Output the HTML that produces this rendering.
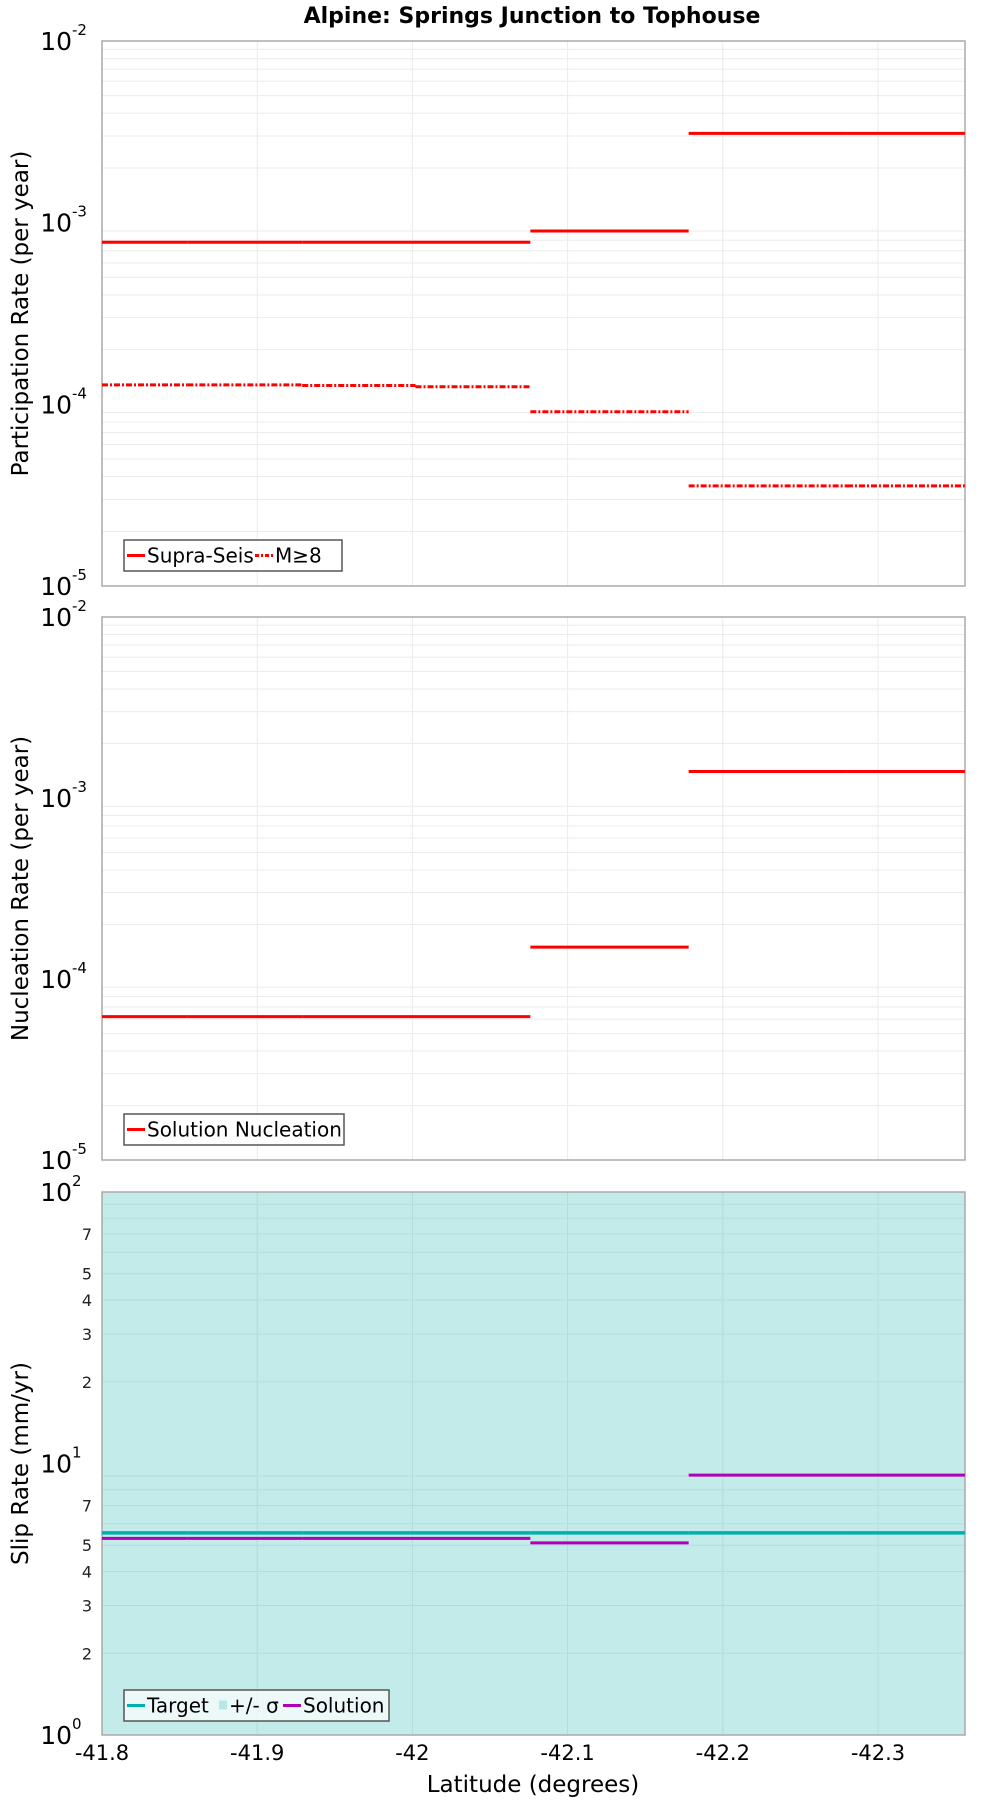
<!DOCTYPE html>
<html><head><meta charset="utf-8"><style>
html,body{margin:0;padding:0;background:#fff;}
svg{display:block;font-family:"DejaVu Sans","Liberation Sans",sans-serif;}
</style></head><body>
<svg id="chart" width="1000" height="1800" viewBox="0 0 1000 1800" xmlns="http://www.w3.org/2000/svg">
<text x="532" y="23" text-anchor="middle" font-size="22" font-weight="bold">Alpine: Springs Junction to Tophouse</text>
</svg>
<script>
// Data
const sectionEdges = [-41.8, -41.855, -41.929, -42.002, -42.076, -42.178, -42.28, -42.356];
const supraSeis = [7.8e-4, 7.8e-4, 7.8e-4, 7.8e-4, 9.0e-4, 3.1e-3, 3.1e-3];
const mGe8 = [1.28e-4, 1.28e-4, 1.27e-4, 1.25e-4, 9.1e-5, 3.56e-5, 3.56e-5];
const nucleation = [6.2e-5, 6.2e-5, 6.2e-5, 6.2e-5, 1.5e-4, 1.4e-3, 1.4e-3];
const slipTarget = [5.55, 5.55, 5.55, 5.55, 5.55, 5.55, 5.55];
const slipSolution = [5.3, 5.3, 5.3, 5.3, 5.1, 9.06, 9.06];
const xTicks = [-41.8, -41.9, -42, -42.1, -42.2, -42.3];
const xTickLabels = ["-41.8", "-41.9", "-42", "-42.1", "-42.2", "-42.3"];

const svg = document.getElementById('chart');
const NS = 'http://www.w3.org/2000/svg';
function mk(tag, attrs, parent){const e=document.createElementNS(NS,tag);for(const k in attrs)e.setAttribute(k,attrs[k]);(parent||svg).appendChild(e);return e;}
const L=102, R=965;
const xScale = v => L + (-41.8 - v) / 0.1 * 155.2;

function panel(name, top, bottom, decMin, decMax, bg, ytitle, minorLabels){
  const g = mk('g',{});
  
  
  const yScale = v => bottom - (Math.log10(v) - decMin) / (decMax - decMin) * (bottom - top);
  const bgr = mk('rect',{x:L,y:top,width:R-L,height:bottom-top,fill:bg},g);
  
  
  const gc = bg==='#fff' ? '#ebebeb' : '#b3dcdc';
  for(let d=decMin; d<decMax; d++){
    for(let m=1;m<10;m++){
      const y=yScale(m*Math.pow(10,d));
      if(m>1) mk('line',{x1:L,x2:R,y1:y,y2:y,stroke:gc,'stroke-width':1},g);
      if(minorLabels && (m===2||m===3||m===4||m===5||m===7)){
        const t=mk('text',{x:L-10,y:y+6,'text-anchor':'end','font-size':16,fill:'#222'},g);
        t.textContent=String(m);
        
        
      }
    }
  }
  xTicks.forEach(v=>{const x=xScale(v);mk('line',{x1:x,x2:x,y1:top,y2:bottom,stroke:gc,'stroke-width':1},g);});
  for(let d=decMin; d<=decMax; d++){
    const y=yScale(Math.pow(10,d));
    const t=mk('text',{x:L-30,y:y+9,'text-anchor':'end','font-size':25},g);
    t.textContent='10';
    
    
    const s=mk('text',{x:L-30,y:y-6,'text-anchor':'start','font-size':15},g);
    s.textContent=String(d);
    
    
  }
  const fr=mk('rect',{x:L,y:top,width:R-L,height:bottom-top,fill:'none',stroke:'#aaa','stroke-width':1.5},g);
  
  
  const yt=mk('text',{x:0,y:0,'text-anchor':'middle','font-size':23,transform:`translate(28 ${(top+bottom)/2}) rotate(-90)`},g);
  yt.textContent=ytitle;
  
  
  return {g, yScale};
}
function series(p, vals, color, width, dash, nm){
  vals.forEach((v,i)=>{
    const y=p.yScale(v);
    const a={x1:xScale(sectionEdges[i]),x2:xScale(sectionEdges[i+1]),y1:y,y2:y,stroke:color,'stroke-width':width};
    if(dash) a['stroke-dasharray']=dash;
    const l=mk('line',a,p.g);
    
    
  });
}
function legend(p, x, y, w, h, items){
  const lg=mk('g',{},p.g);
  
  
  mk('rect',{x,y,width:w,height:h,fill:'rgba(255,255,255,0.7)',stroke:'#555','stroke-width':1.5},lg);
  let cx=x+3;
  items.forEach(it=>{
    const e=mk('g',{},lg);
    
    
    if(it.box){mk('rect',{x:cx+2,y:y+h/2-5,width:8,height:9,fill:it.color},e);cx+=12;}
    else{const a={x1:cx,x2:cx+18,y1:y+h/2,y2:y+h/2,stroke:it.color,'stroke-width':3};if(it.dash)a['stroke-dasharray']=it.dash;mk('line',a,e);cx+=20;}
    const t=mk('text',{x:cx,y:y+h/2+7,'font-size':20},e);
    t.textContent=it.label;
    cx+=it.w;
  });
}

const p1=panel('participation-panel',41,586,-5,-2,'#fff','Participation Rate (per year)',false);
series(p1,supraSeis,'#f00',3,null,'supra-seis');
series(p1,mGe8,'#f00',3,'6 2 2 2','m-ge-8');
legend(p1,124,540,218,31,[{label:'Supra-Seis',color:'#f00',w:108},{label:'M≥8',color:'#f00',dash:'4 2 2 2',w:60}]);

const p2=panel('nucleation-panel',617,1160,-5,-2,'#fff','Nucleation Rate (per year)',false);
series(p2,nucleation,'#f00',3,null,'solution-nucleation');
legend(p2,124,1114,220,31,[{label:'Solution Nucleation',color:'#f00',w:200}]);

const p3=panel('slip-rate-panel',1192,1735,0,2,'#c3ebe9','Slip Rate (mm/yr)',true);
series(p3,slipTarget,'#00b0b0',3.5,null,'target');
series(p3,slipSolution,'#b000b8',3,null,'solution');
legend(p3,124,1690,265,31,[{label:'Target',color:'#00b0b0',w:70},{label:'+/- σ',color:'#b6e6e6',box:true,w:54},{label:'Solution',color:'#b000b8',w:90}]);

xTicks.forEach((v,i)=>{
  const t=mk('text',{x:xScale(v),y:1760,'text-anchor':'middle','font-size':21});
  t.textContent=xTickLabels[i];
  
  
});
const xt=mk('text',{x:533,y:1792,'text-anchor':'middle','font-size':23});
xt.textContent='Latitude (degrees)';


</script>
</body></html>
